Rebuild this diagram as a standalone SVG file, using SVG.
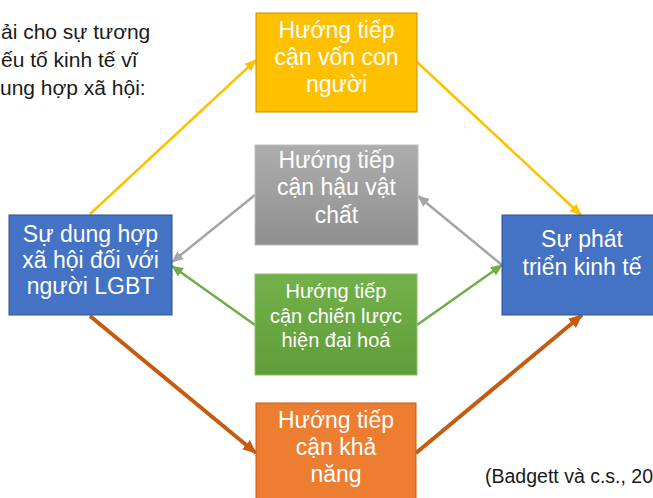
<svg xmlns="http://www.w3.org/2000/svg" width="653" height="498" viewBox="0 0 653 498">
<style>
.t{font-family:"Liberation Sans",Arial,sans-serif;fill:#fff;text-anchor:middle;font-size:23px}
.tg{font-size:20px}
.d{font-family:"Liberation Sans",Arial,sans-serif;fill:#1a1a1a;font-size:21px}
.c{stroke-width:2.5;fill:none}
</style>
<defs>
<linearGradient id="gG" x1="0" y1="0" x2="0" y2="1"><stop offset="0" stop-color="#ADADAD"/><stop offset="1" stop-color="#8F8F8F"/></linearGradient>
<linearGradient id="gN" x1="0" y1="0" x2="0" y2="1"><stop offset="0" stop-color="#74B14B"/><stop offset="1" stop-color="#5E9D37"/></linearGradient>
<marker id="aY" markerUnits="userSpaceOnUse" markerWidth="12" markerHeight="12" viewBox="0 0 12 12" refX="11" refY="6" orient="auto"><path d="M0,1 L12,6 L0,11 z" fill="#FFC000"/></marker>
<marker id="aG" markerUnits="userSpaceOnUse" markerWidth="12" markerHeight="12" viewBox="0 0 12 12" refX="11" refY="6" orient="auto"><path d="M0,1 L12,6 L0,11 z" fill="#A5A5A5"/></marker>
<marker id="aN" markerUnits="userSpaceOnUse" markerWidth="12" markerHeight="12" viewBox="0 0 12 12" refX="11" refY="6" orient="auto"><path d="M0,1 L12,6 L0,11 z" fill="#70AD47"/></marker>
<marker id="aO" markerUnits="userSpaceOnUse" markerWidth="14" markerHeight="14" viewBox="0 0 14 14" refX="13" refY="7" orient="auto"><path d="M0,1 L14,7 L0,13 z" fill="#C55A11"/></marker>
</defs>

<g id="intro">
<text class="d" x="1" y="39">ải cho sự tương</text>
<text class="d" x="1" y="67">ếu tố kinh tế vĩ</text>
<text class="d" x="0" y="95">ung hợp xã hội:</text>
</g>

<g id="connectors">
<line class="c" x1="90" y1="214" x2="256" y2="60" stroke="#FFC000" marker-end="url(#aY)"/>
<line class="c" x1="417" y1="62" x2="581" y2="215" stroke="#FFC000" marker-end="url(#aY)"/>
<line class="c" x1="502" y1="265" x2="418" y2="196" stroke="#A5A5A5" marker-end="url(#aG)"/>
<line class="c" x1="255" y1="195" x2="172" y2="262" stroke="#A5A5A5" marker-end="url(#aG)"/>
<line class="c" x1="255" y1="325" x2="172" y2="266" stroke="#70AD47" marker-end="url(#aN)"/>
<line class="c" x1="417" y1="325" x2="502" y2="265" stroke="#70AD47" marker-end="url(#aN)"/>
<line x1="90" y1="316" x2="256" y2="453" stroke="#C55A11" stroke-width="4" marker-end="url(#aO)"/>
<line x1="416" y1="453" x2="582" y2="315" stroke="#C55A11" stroke-width="4" marker-end="url(#aO)"/>
</g>

<g id="human">
<rect x="256" y="13" width="161" height="99" fill="#FFC000" stroke="#BF9000" stroke-width="1"/>
<text class="t" x="336.5" y="38">Hướng tiếp</text>
<text class="t" x="336.5" y="65">cận vốn con</text>
<text class="t" x="336.5" y="92">người</text>
</g>

<g id="postmaterial">
<rect x="255" y="145" width="163" height="100" fill="url(#gG)" stroke="#BDBDBD" stroke-width="1"/>
<text class="t" x="336.5" y="168">Hướng tiếp</text>
<text class="t" x="336.5" y="195">cận hậu vật</text>
<text class="t" x="336.5" y="223">chất</text>
</g>

<g id="modernization">
<rect x="255" y="274" width="162" height="101" fill="url(#gN)" stroke="#8CC26A" stroke-width="1"/>
<text class="t tg" x="336" y="298">Hướng tiếp</text>
<text class="t tg" x="336" y="323">cận chiến lược</text>
<text class="t tg" x="336" y="347">hiện đại hoá</text>
</g>

<g id="capability">
<rect x="256" y="403" width="160" height="100" fill="#ED7D31" stroke="#C55A11" stroke-width="1"/>
<text class="t" x="336" y="428">Hướng tiếp</text>
<text class="t" x="336" y="455">cận khả</text>
<text class="t" x="336" y="482">năng</text>
</g>

<g id="inclusion">
<rect x="9" y="215" width="163" height="100" fill="#4472C4" stroke="#2F528F" stroke-width="1"/>
<text class="t" x="90.5" y="242">Sự dung hợp</text>
<text class="t" x="90.5" y="268">xã hội đối với</text>
<text class="t" x="90.5" y="294">người LGBT</text>
</g>

<g id="development">
<rect x="502" y="215" width="160" height="100" fill="#4472C4" stroke="#2F528F" stroke-width="1"/>
<text class="t" x="582" y="247">Sự phát</text>
<text class="t" x="582" y="275">triển kinh tế</text>
</g>

<g id="citation">
<text class="d" x="485" y="483" style="font-size:19.5px">(Badgett và c.s., 2019)</text>
</g>
</svg>
